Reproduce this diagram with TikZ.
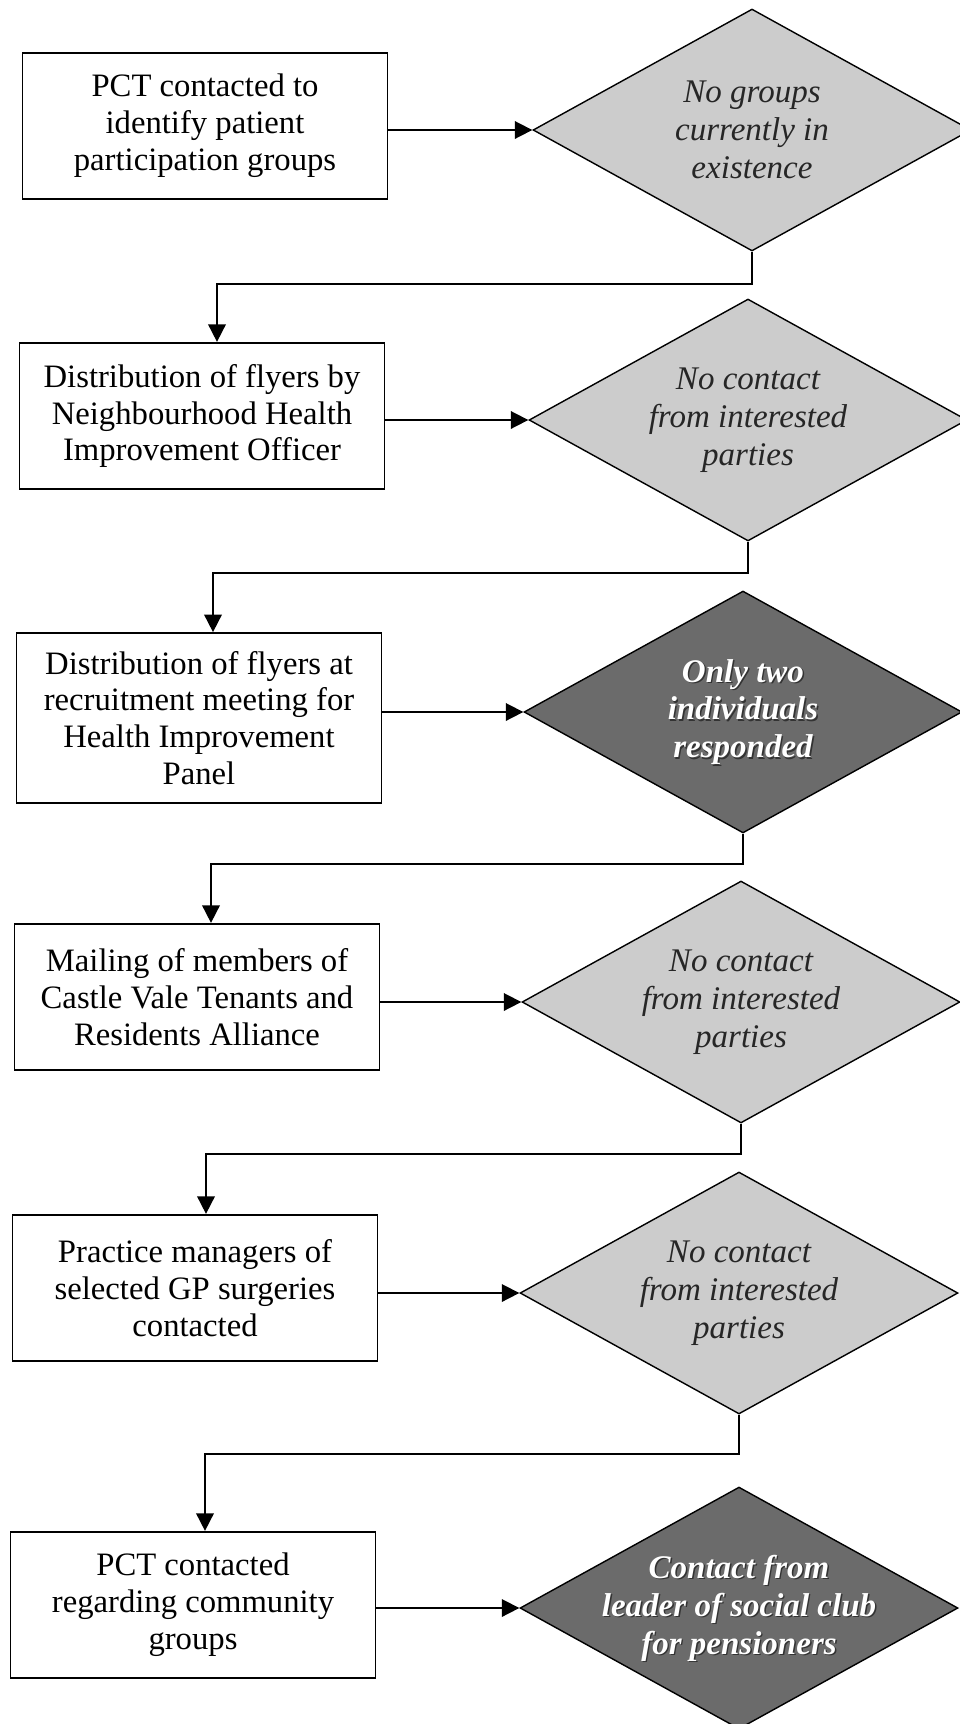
\documentclass[tikz,border=0pt]{standalone}
\usepackage{fontspec}
\setmainfont{Liberation Serif}
\usetikzlibrary{shapes.geometric}
\usetikzlibrary{arrows.meta}
\definecolor{lightfill}{gray}{0.80}
\definecolor{darkfill}{gray}{0.42}
\tikzset{
    stepbox/.style = {rectangle, draw=black, line width=1pt, fill=white, minimum width=7.3cm, minimum height=2.93cm, align=center, inner sep=2pt, font=\fontsize{18.6pt}{21pt}\selectfont},
    diabase/.style = {diamond, draw=black, line width=0.8pt, minimum width=8.76cm, minimum height=4.84cm, inner sep=0pt},
    dialight/.style = {diabase, fill=lightfill},
    diadark/.style = {diabase, fill=darkfill},
    textlight/.style = {align=center, text=black!85, font=\fontsize{18.8pt}{21.6pt}\selectfont\itshape},
    textdark/.style = {align=center, text=white, font=\fontsize{18.8pt}{21.6pt}\selectfont\bfseries\itshape},
    textshadow/.style = {textdark, text=black!80, xshift=0.8pt, yshift=-0.8pt},
    edgen/.style = {-{Triangle[length=10pt,width=10pt]}, line width=1pt}
}

\begin{document}
\begin{tikzpicture}[x=0.02cm, y=-0.02cm]
\useasboundingbox (0, 0) rectangle (960, 1724);
%
\node[stepbox] at (205, 126) (b1) {PCT contacted to\\identify patient\\participation groups};
\node[stepbox] at (202, 416) (b2) {Distribution of flyers by\\Neighbourhood Health\\Improvement Officer};
\node[stepbox, minimum height=3.4cm] at (199, 718) (b3) {Distribution of flyers at\\recruitment meeting for\\Health Improvement\\Panel};
\node[stepbox] at (197, 997) (b4) {Mailing of members of\\Castle Vale Tenants and\\Residents Alliance};
\node[stepbox] at (195, 1288) (b5) {Practice managers of\\selected GP surgeries\\contacted};
\node[stepbox] at (193, 1605) (b6) {PCT contacted\\regarding community\\groups};
%
\node[dialight, label={[textlight]center:{No groups\\currently in\\existence}}] at (752, 130) (d1) {};
\node[dialight, label={[textlight]center:{No contact\\from interested\\parties}}] at (748, 420) (d2) {};
\node[diadark, label={[textshadow]center:{Only two\\individuals\\responded}}, label={[textdark]center:{Only two\\individuals\\responded}}] at (743, 712) (d3) {};
\node[dialight, label={[textlight]center:{No contact\\from interested\\parties}}] at (741, 1002) (d4) {};
\node[dialight, label={[textlight]center:{No contact\\from interested\\parties}}] at (739, 1293) (d5) {};
\node[diadark, label={[textshadow]center:{Contact from\\leader of social club\\for pensioners}}, label={[textdark]center:{Contact from\\leader of social club\\for pensioners}}] at (739, 1608) (d6) {};
%
\draw[edgen] (b1.east |- d1.west) -- (d1.west);
\draw[edgen] (b2.east |- d2.west) -- (d2.west);
\draw[edgen] (b3.east |- d3.west) -- (d3.west);
\draw[edgen] (b4.east |- d4.west) -- (d4.west);
\draw[edgen] (b5.east |- d5.west) -- (d5.west);
\draw[edgen] (b6.east |- d6.west) -- (d6.west);
%
\draw[edgen] (d1.south) -- ++(0, 32) -| ([xshift=0.3cm]b2.north);
\draw[edgen] (d2.south) -- ++(0, 31) -| ([xshift=0.28cm]b3.north);
\draw[edgen] (d3.south) -- ++(0, 30) -| ([xshift=0.28cm]b4.north);
\draw[edgen] (d4.south) -- ++(0, 30) -| ([xshift=0.22cm]b5.north);
\draw[edgen] (d5.south) -- ++(0, 39) -| ([xshift=0.24cm]b6.north);

\end{tikzpicture}
\end{document}
